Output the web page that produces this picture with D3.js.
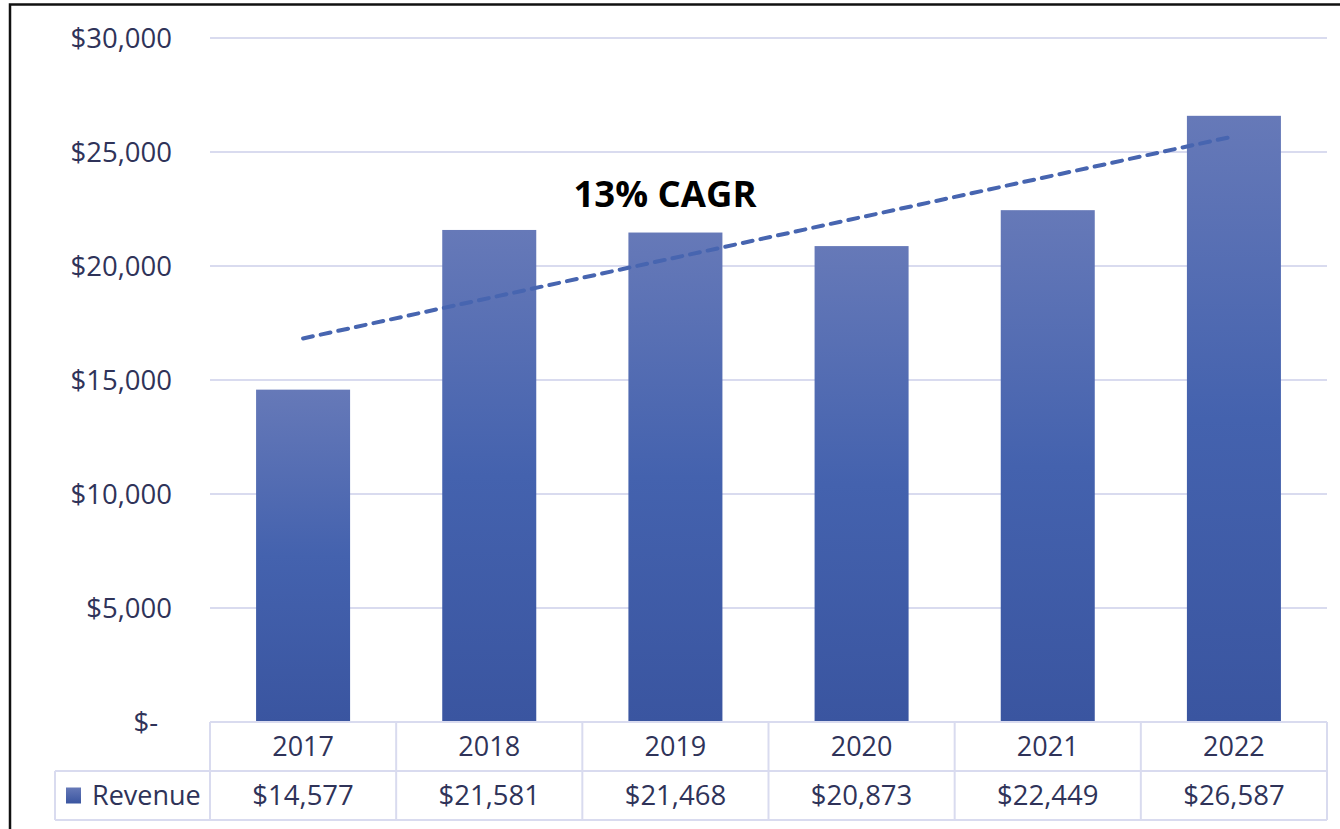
<!DOCTYPE html>
<html>
<head>
<meta charset="utf-8">
<script src="https://cdn.jsdelivr.net/npm/d3@7"></script>
<style>
  body { margin: 0; background: #fff; }
  svg { display: block; font-family: "Open Sans", "Noto Sans", sans-serif; }
</style>
</head>
<body>
<div id="chart"></div>
<script>
const years = ["2017", "2018", "2019", "2020", "2021", "2022"];
const revenue = [14577, 21581, 21468, 20873, 22449, 26587];
const yTicks = [0, 5000, 10000, 15000, 20000, 25000, 30000];
const seriesName = "Revenue";
const annotation = "13% CAGR";

const W = 1340, H = 829;
const plotL = 210, plotR = 1327, plotT = 38, plotB = 722;
const rowH = 49;

const svg = d3.select("#chart").append("svg")
    .attr("width", W)
    .attr("height", H);

const defs = svg.append("defs");
const grad = defs.append("linearGradient")
    .attr("id", "barGrad")
    .attr("x1", 0).attr("y1", 0).attr("x2", 0).attr("y2", 1);
grad.append("stop").attr("offset", "0%").attr("stop-color", "#6679b8");
grad.append("stop").attr("offset", "50%").attr("stop-color", "#4462ae");
grad.append("stop").attr("offset", "100%").attr("stop-color", "#3a55a0");

const lgGrad = defs.append("linearGradient")
    .attr("id", "lgGrad")
    .attr("x1", 0).attr("y1", 0).attr("x2", 0).attr("y2", 1);
lgGrad.append("stop").attr("offset", "0%").attr("stop-color", "#6679b8");
lgGrad.append("stop").attr("offset", "100%").attr("stop-color", "#3a55a0");

const x = d3.scaleBand().domain(years).range([plotL, plotR]).paddingInner(0).paddingOuter(0);
const y = d3.scaleLinear().domain([0, 30000]).range([plotB, plotT]);
const barW = x.bandwidth() * 0.505;

const textColor = "#2f3359";
const gridColor = "#d9dbef";

// gridlines
svg.append("g")
    .selectAll("line")
    .data(yTicks.filter(d => d > 0))
    .join("line")
    .attr("x1", plotL).attr("x2", plotR)
    .attr("y1", d => y(d)).attr("y2", d => y(d))
    .attr("stroke", gridColor)
    .attr("stroke-width", 2);

// y labels
const fmt = d3.format(",");
svg.append("g")
    .selectAll("text")
    .data(yTicks)
    .join("text")
    .attr("x", d => d === 0 ? 158 : 172)
    .attr("y", d => y(d))
    .attr("dy", "0.36em")
    .attr("text-anchor", "end")
    .attr("fill", textColor)
    .style("font-size", "27.5px")
    .text(d => d === 0 ? "$-" : "$" + fmt(d));

// bars
svg.append("g")
    .selectAll("rect")
    .data(revenue)
    .join("rect")
    .attr("x", (d, i) => x(years[i]) + (x.bandwidth() - barW) / 2)
    .attr("y", d => y(d))
    .attr("width", barW)
    .attr("height", d => plotB - y(d))
    .attr("fill", "url(#barGrad)");

// linear trendline (least squares over the bars)
const n = revenue.length;
const xs = d3.range(1, n + 1);
const mx = d3.mean(xs), my = d3.mean(revenue);
const slope = d3.sum(xs, (v, i) => (v - mx) * (revenue[i] - my)) / d3.sum(xs, v => (v - mx) ** 2);
const icpt = my - slope * mx;
const trend = [1, n].map(v => [x(years[v - 1]) + x.bandwidth() / 2, y(icpt + slope * v)]);
svg.append("path")
    .attr("d", d3.line()(trend))
    .attr("fill", "none")
    .attr("stroke", "#4765b0")
    .attr("stroke-width", 4)
    .attr("stroke-linecap", "round")
    .attr("stroke-dasharray", "10 8");

// annotation
svg.append("text")
    .attr("x", 665)
    .attr("y", 207)
    .attr("text-anchor", "middle")
    .attr("fill", "#000")
    .style("font-size", "36.5px")
    .style("font-weight", "bold")
    .text(annotation);

// data table
const tbl = svg.append("g")
    .attr("fill", "none")
    .attr("stroke", gridColor)
    .attr("stroke-width", 2);
const legendLeft = 55;
tbl.append("line").attr("x1", plotL).attr("x2", plotR).attr("y1", plotB).attr("y2", plotB);
tbl.append("line").attr("x1", legendLeft).attr("x2", plotR).attr("y1", plotB + rowH).attr("y2", plotB + rowH);
tbl.append("line").attr("x1", legendLeft).attr("x2", plotR).attr("y1", plotB + 2 * rowH).attr("y2", plotB + 2 * rowH);
tbl.append("line").attr("x1", legendLeft).attr("x2", legendLeft).attr("y1", plotB + rowH).attr("y2", plotB + 2 * rowH);
tbl.selectAll(".vl")
    .data(years.map(d => x(d)).concat([plotR]))
    .join("line")
    .attr("x1", d => d).attr("x2", d => d)
    .attr("y1", plotB).attr("y2", plotB + 2 * rowH);

svg.append("g")
    .selectAll("text")
    .data(years)
    .join("text")
    .attr("x", d => x(d) + x.bandwidth() / 2)
    .attr("y", plotB + rowH / 2)
    .attr("dy", "0.36em")
    .attr("text-anchor", "middle")
    .attr("fill", textColor)
    .style("font-size", "27px")
    .text(d => d);

svg.append("g")
    .selectAll("text")
    .data(revenue)
    .join("text")
    .attr("x", (d, i) => x(years[i]) + x.bandwidth() / 2)
    .attr("y", plotB + rowH * 1.5)
    .attr("dy", "0.36em")
    .attr("text-anchor", "middle")
    .attr("fill", textColor)
    .style("font-size", "27.5px")
    .text(d => "$" + fmt(d));

// legend key
svg.append("rect")
    .attr("x", 66).attr("y", plotB + rowH * 1.5 - 8)
    .attr("width", 15).attr("height", 16)
    .attr("fill", "url(#lgGrad)");
svg.append("text")
    .attr("x", 92)
    .attr("y", plotB + rowH * 1.5)
    .attr("dy", "0.36em")
    .attr("fill", textColor)
    .style("font-size", "27px")
    .text(seriesName);

// outer frame
svg.append("rect")
    .attr("x", 10).attr("y", 4.5)
    .attr("width", W + 20).attr("height", H + 20)
    .attr("fill", "none")
    .attr("stroke", "#111")
    .attr("stroke-width", 2.5);
</script>
</body>
</html>
